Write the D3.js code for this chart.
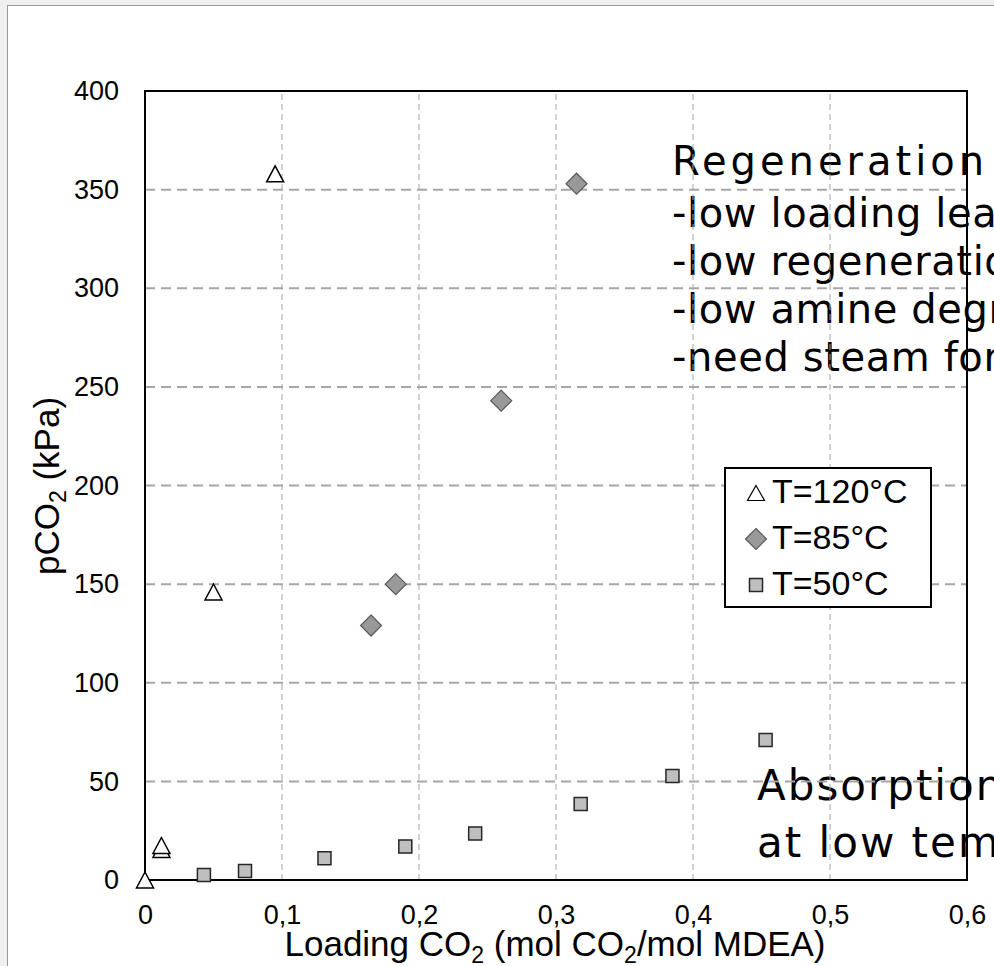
<!DOCTYPE html>
<html>
<head>
<meta charset="utf-8">
<script src="https://cdn.jsdelivr.net/npm/d3@7"></script>
<style>
  html, body { margin: 0; padding: 0; overflow: hidden; background: #f0f0f0; }
  svg { display: block; }
</style>
</head>
<body>
<div id="chart"></div>
<script>
// T=120°C series (open triangles)
var t120Loading = [0, 0.012, 0.012, 0.05, 0.095];
var t120Pressure = [0, 15.5, 17.5, 146, 358];
// T=85°C series (diamonds)
var t85Loading = [0.165, 0.183, 0.26, 0.315];
var t85Pressure = [129, 150, 243, 353];
// T=50°C series (squares)
var t50Loading = [0.043, 0.073, 0.131, 0.19, 0.241, 0.318, 0.385, 0.453];
var t50Pressure = [2.5, 4.6, 11, 17, 23.6, 38.5, 52.7, 71];

var xTicks = [0, 0.1, 0.2, 0.3, 0.4, 0.5, 0.6];
var yTicks = [0, 50, 100, 150, 200, 250, 300, 350, 400];
var legendLabels = ["T=120°C", "T=85°C", "T=50°C"];
var regenTitle = "Regeneration at high temperature";
var regenLines = ["-low loading lean solvent", "-low regeneration energy", "-low amine degradation", "-need steam for stripping"];
var absorbLines = ["Absorption", "at low temperature"];

function drawChart() {
    var W = 994, H = 966;
    var svg = d3.select("#chart").append("svg")
        .attr("width", W)
        .attr("height", H);

    svg.append("rect")
        .attr("x", 7.5).attr("y", 5.5)
        .attr("width", W).attr("height", H)
        .attr("fill", "#ffffff")
        .attr("stroke", "#9a9a9a");

    var x = d3.scaleLinear().domain([0, 0.6]).range([145, 967]);
    var y = d3.scaleLinear().domain([0, 400]).range([880, 91]);

    var annoFont = "'DejaVu Sans', sans-serif";

    // text boxes sit behind the chart
    svg.append("text")
        .attr("x", 672)
        .attr("y", 175)
        .attr("font-family", annoFont)
        .attr("font-size", 40)
        .attr("letter-spacing", 4)
        .attr("fill", "#000")
        .text(regenTitle);

    var regen = svg.append("text")
        .attr("font-family", annoFont)
        .attr("font-size", 40)
        .attr("letter-spacing", 0.6)
        .attr("fill", "#000");
    regen.selectAll("tspan")
        .data(regenLines)
        .enter().append("tspan")
        .attr("x", 672)
        .attr("y", function(d, i) { return 227 + i * 48; })
        .text(function(d) { return d; });

    var absorb = svg.append("text")
        .attr("font-family", annoFont)
        .attr("font-size", 42)
        .attr("letter-spacing", 2)
        .attr("fill", "#000");
    absorb.selectAll("tspan")
        .data(absorbLines)
        .enter().append("tspan")
        .attr("x", 757)
        .attr("y", function(d, i) { return 800 + i * 57; })
        .text(function(d) { return d; });

    // grid
    svg.append("g").selectAll("line")
        .data(yTicks.slice(1, -1))
        .enter().append("line")
        .attr("x1", x(0)).attr("x2", x(0.6))
        .attr("y1", function(d) { return y(d); })
        .attr("y2", function(d) { return y(d); })
        .attr("stroke", "#a6a6a6")
        .attr("stroke-width", 2)
        .attr("stroke-dasharray", "10,6");

    svg.append("g").selectAll("line")
        .data(xTicks.slice(1, -1))
        .enter().append("line")
        .attr("x1", function(d) { return x(d); })
        .attr("x2", function(d) { return x(d); })
        .attr("y1", y(0)).attr("y2", y(400))
        .attr("stroke", "#a6a6a6")
        .attr("stroke-width", 1)
        .attr("stroke-dasharray", "6,4");

    svg.append("rect")
        .attr("x", x(0)).attr("y", y(400))
        .attr("width", x(0.6) - x(0))
        .attr("height", y(0) - y(400))
        .attr("fill", "none")
        .attr("stroke", "#000")
        .attr("stroke-width", 2);

    var tickFont = "'Liberation Sans', Arial, sans-serif";

    var xAxis = svg.append("g")
        .attr("transform", "translate(0," + y(0) + ")")
        .call(d3.axisBottom(x)
            .tickValues(xTicks)
            .tickSize(0)
            .tickPadding(25)
            .tickFormat(function(d) { return d === 0 ? "0" : d3.format(".1f")(d).replace(".", ","); }));
    xAxis.select(".domain").remove();
    xAxis.selectAll("text")
        .attr("font-family", tickFont)
        .attr("font-size", 27)
        .attr("fill", "#000");

    var yAxis = svg.append("g")
        .attr("transform", "translate(" + x(0) + ",0)")
        .call(d3.axisLeft(y)
            .tickValues(yTicks)
            .tickSize(0)
            .tickPadding(26));
    yAxis.select(".domain").remove();
    yAxis.selectAll("text")
        .attr("font-family", tickFont)
        .attr("font-size", 27)
        .attr("fill", "#000");

    // axis titles
    var xTitle = svg.append("text")
        .attr("x", 555)
        .attr("y", 956)
        .attr("text-anchor", "middle")
        .attr("font-family", tickFont)
        .attr("font-size", 35)
        .attr("fill", "#000");
    xTitle.append("tspan").text("Loading CO");
    xTitle.append("tspan").attr("font-size", 23).attr("baseline-shift", "-30%").text("2");
    xTitle.append("tspan").text(" (mol CO");
    xTitle.append("tspan").attr("font-size", 23).attr("baseline-shift", "-30%").text("2");
    xTitle.append("tspan").text("/mol MDEA)");

    var yTitle = svg.append("text")
        .attr("transform", "translate(59," + 486 + ") rotate(-90)")
        .attr("text-anchor", "middle")
        .attr("font-family", tickFont)
        .attr("font-size", 35)
        .attr("fill", "#000");
    yTitle.append("tspan").text("pCO");
    yTitle.append("tspan").attr("font-size", 23).attr("baseline-shift", "-30%").text("2");
    yTitle.append("tspan").text(" (kPa)");

    // markers
    function triangle(w, h) {
        return "M0," + (-h / 2) + "L" + (w / 2) + "," + (h / 2) + "L" + (-w / 2) + "," + (h / 2) + "Z";
    }
    function diamond(s) {
        return "M0," + (-s / 2) + "L" + (s / 2) + ",0L0," + (s / 2) + "L" + (-s / 2) + ",0Z";
    }
    function square(s) {
        return "M" + (-s / 2) + "," + (-s / 2) + "h" + s + "v" + s + "h" + (-s) + "Z";
    }

    var pts = svg.append("g");

    pts.selectAll(".t50")
        .data(t50Loading.map(function(d, i) { return [d, t50Pressure[i]]; }))
        .enter().append("path")
        .attr("class", "t50")
        .attr("transform", function(d) { return "translate(" + x(d[0]) + "," + y(d[1]) + ")"; })
        .attr("d", square(13))
        .attr("fill", "#bfbfbf")
        .attr("stroke", "#262626")
        .attr("stroke-width", 1.5);

    pts.selectAll(".t85")
        .data(t85Loading.map(function(d, i) { return [d, t85Pressure[i]]; }))
        .enter().append("path")
        .attr("class", "t85")
        .attr("transform", function(d) { return "translate(" + x(d[0]) + "," + y(d[1]) + ")"; })
        .attr("d", diamond(21))
        .attr("fill", "#999999")
        .attr("stroke", "#595959")
        .attr("stroke-width", 1.2);

    pts.selectAll(".t120")
        .data(t120Loading.map(function(d, i) { return [d, t120Pressure[i]]; }))
        .enter().append("path")
        .attr("class", "t120")
        .attr("transform", function(d) { return "translate(" + x(d[0]) + "," + y(d[1]) + ")"; })
        .attr("d", triangle(17, 16))
        .attr("fill", "#ffffff")
        .attr("stroke", "#000")
        .attr("stroke-width", 1.5);

    // legend
    var legend = svg.append("g");
    legend.append("rect")
        .attr("x", 725).attr("y", 468)
        .attr("width", 206).attr("height", 139)
        .attr("fill", "#ffffff")
        .attr("stroke", "#000")
        .attr("stroke-width", 2);

    var legendMarks = [
        { d: triangle(17, 15), fill: "#ffffff", stroke: "#000", sw: 1.2 },
        { d: diamond(21), fill: "#999999", stroke: "#595959", sw: 1.2 },
        { d: square(13), fill: "#bfbfbf", stroke: "#262626", sw: 1.5 }
    ];
    var rows = legend.selectAll(".row")
        .data(legendLabels)
        .enter().append("g")
        .attr("class", "row")
        .attr("transform", function(d, i) { return "translate(0," + (503 + i * 46) + ")"; });

    rows.append("path")
        .attr("transform", "translate(756,-10)")
        .attr("d", function(d, i) { return legendMarks[i].d; })
        .attr("fill", function(d, i) { return legendMarks[i].fill; })
        .attr("stroke", function(d, i) { return legendMarks[i].stroke; })
        .attr("stroke-width", function(d, i) { return legendMarks[i].sw; });

    rows.append("text")
        .attr("x", 772)
        .attr("font-family", tickFont)
        .attr("font-size", 34)
        .attr("fill", "#000")
        .text(function(d) { return d; });
}

drawChart();
</script>
</body>
</html>
